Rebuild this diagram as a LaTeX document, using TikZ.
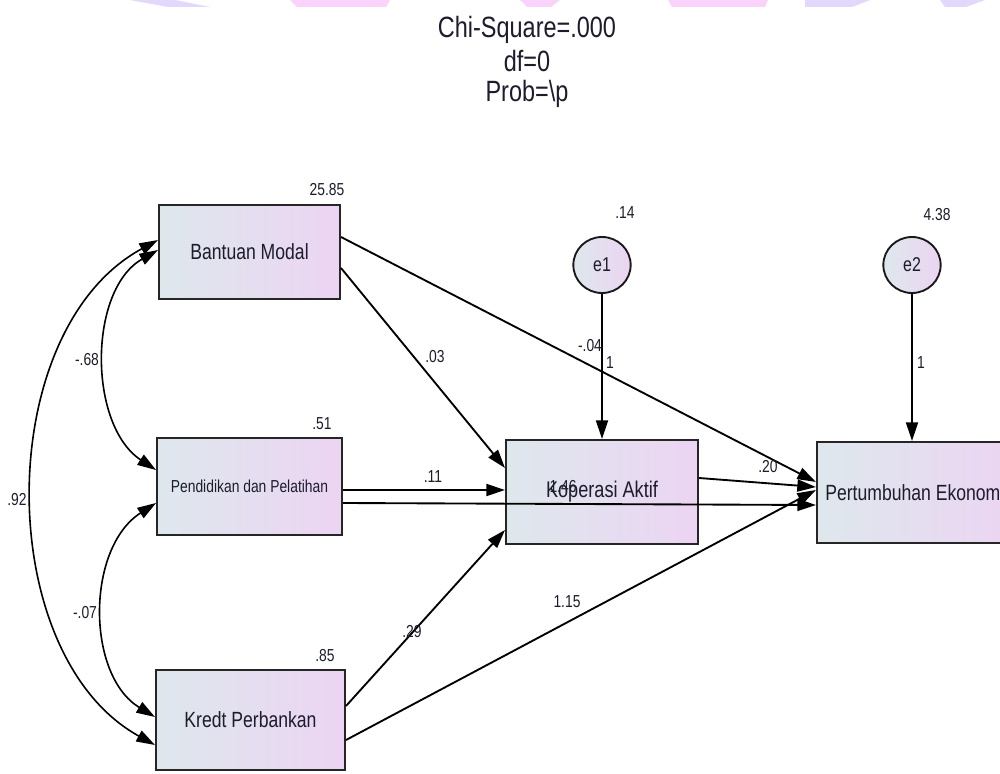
\documentclass[tikz,border=0pt]{standalone}
\usepackage{fontspec}
\setmainfont{Liberation Sans}[FakeStretch=0.8]
\usetikzlibrary{arrows.meta,calc,shapes.geometric}
\definecolor{boxleft}{RGB}{222,232,236}
\definecolor{boxright}{RGB}{236,212,243}
\definecolor{ink}{RGB}{28,28,44}
\definecolor{wmlav}{RGB}{214,200,250}
\definecolor{wmpink}{RGB}{248,204,248}
\newcommand{\fpx}[1]{\fontsize{#1}{#1}\selectfont}
\tikzset{
  varbox/.style={draw=black!85, line width=1.5pt, left color=boxleft, right color=boxright,
    shading angle=90, inner sep=0pt, text=ink},
  errvar/.style={ellipse, draw=black!90, line width=1.4pt, left color=boxleft, right color=boxright,
    minimum width=43pt, minimum height=42pt, inner sep=0pt, text=ink, font=\fpx{15pt}},
  path/.style={line width=1.4pt, -{Triangle[length=14pt,width=9pt]}},
  cov/.style={line width=1.2pt, {Triangle[length=14pt,width=9pt]}-{Triangle[length=14pt,width=9pt]}},
  est/.style={text=ink, font=\fpx{13pt}, inner sep=0pt},
  ttl/.style={text=ink, font=\fpx{22pt}, inner sep=0pt}
}
\begin{document}
\begin{tikzpicture}[x=0.75pt, y=-0.75pt]
\useasboundingbox (0,0) rectangle (1000,774);
\clip (0,0) rectangle (1000,774);
\fill[white] (0,0) rectangle (1000,774);

% faint banner shapes along the top edge
\fill[wmlav, opacity=0.7] (130,0) -- (175,0) -- (210,7) -- (168,7) -- cycle;
\fill[wmpink, opacity=0.85] (290,0) -- (390,0) -- (386,7) -- (297,7) -- cycle;
\fill[wmpink, opacity=0.85] (520,0) -- (560,0) -- (551,7) -- (527,7) -- cycle;
\fill[wmpink, opacity=0.85] (668,0) -- (768,0) -- (765,7) -- (672,7) -- cycle;
\fill[wmlav, opacity=0.7] (805,0) -- (870,0) -- (852,7) -- (805,7) -- cycle;
\fill[wmlav, opacity=0.7] (940,0) -- (985,0) -- (966,7) -- (945,7) -- cycle;

% fit summary
\node[ttl] (chi) at (527,30) {Chi-Square=.000};
\node[ttl] (df) at (527,61) {df=0};
\node[ttl] (prob) at (527,94) {Prob=\textbackslash p};

% observed variables
\node[varbox, minimum width=135.75pt, minimum height=70.5pt, font=\fpx{16.5pt}] (bm) at (249.5,252) {Bantuan Modal};
\node[varbox, minimum width=138.75pt, minimum height=72.75pt, font=\fpx{13pt}] (pd) at (249.5,486.5) {Pendidikan dan Pelatihan};
\node[varbox, minimum width=141.75pt, minimum height=75pt, font=\fpx{16.5pt}] (kb) at (250.5,720) {Kredt Perbankan};
\node[varbox, minimum width=144pt, minimum height=78pt, font=\fpx{17pt}] (ka) at (602,492) {Koperasi Aktif};
\node[varbox, minimum width=148.5pt, minimum height=75.75pt] (pe) at (916,492.5) {};
\node[text=ink, font=\fpx{16.5pt}, anchor=west, inner sep=0pt] (pelabel) at (825,492.5) {Pertumbuhan Ekonomi};

% error terms
\node[errvar] (e1) at (602,265) {e1};
\node[errvar] (e2) at (912,265) {e2};

% regression paths
\draw[path] ($(bm.east)+(0,16)$) -- ($(ka.west)+(0,-24)$);
\draw[path] ($(bm.east)+(0,-15)$) -- ($(pe.west)+(0,-10.5)$);
\draw[path] ($(pd.east)+(0,3.5)$) -- ($(ka.west)+(0,-2)$);
\draw[path] ($(pd.east)+(0,16.5)$) -- ($(pe.west)+(0,12.5)$);
\draw[path] ($(kb.east)+(0,-14)$) -- ($(ka.west)+(0,38)$);
\draw[path] ($(kb.east)+(0,20)$) -- ($(pe.west)+(0,-2.5)$);
\draw[path] ($(ka.east)+(0,-14)$) -- ($(pe.west)+(0,-5.5)$);
\draw[path] (e1.south) -- (ka.north);
\draw[path] (e2.south) -- (pe.north -| e2.south);

% covariances
\draw[cov] ($(bm.west)+(0,-2)$) .. controls (88,290) and (88,425) .. ($(pd.west)+(0,-16.5)$);
\draw[cov] ($(pd.west)+(0,16.5)$) .. controls (86,548) and (86,675) .. ($(kb.west)+(0,-3)$);
\draw[cov] ($(bm.west)+(0,-12)$) .. controls (-8,330) and (-8,655) .. ($(kb.west)+(0,25)$);

% estimates
\node[est] (vbm) at (327,190) {25.85};
\node[est] (vpd) at (322,424) {.51};
\node[est] (vkb) at (325,656) {.85};
\node[est] (ve1) at (625,213) {.14};
\node[est] (ve2) at (937,215) {4.38};
\node[est] (ika) at (563,487) {1.46};
\node[est] (w1) at (435,357) {.03};
\node[est] (w2) at (590,346) {-.04};
\node[est] (w3) at (610,363) {1};
\node[est] (w4) at (433,477) {.11};
\node[est] (w5) at (768,467) {.20};
\node[est] (w6) at (412,632) {.29};
\node[est] (w7) at (567,602) {1.15};
\node[est] (w8) at (921,363) {1};
\node[est] (c1) at (87,360) {-.68};
\node[est] (c2) at (85,613) {-.07};
\node[est] (c3) at (17,500) {.92};
\end{tikzpicture}
\end{document}
